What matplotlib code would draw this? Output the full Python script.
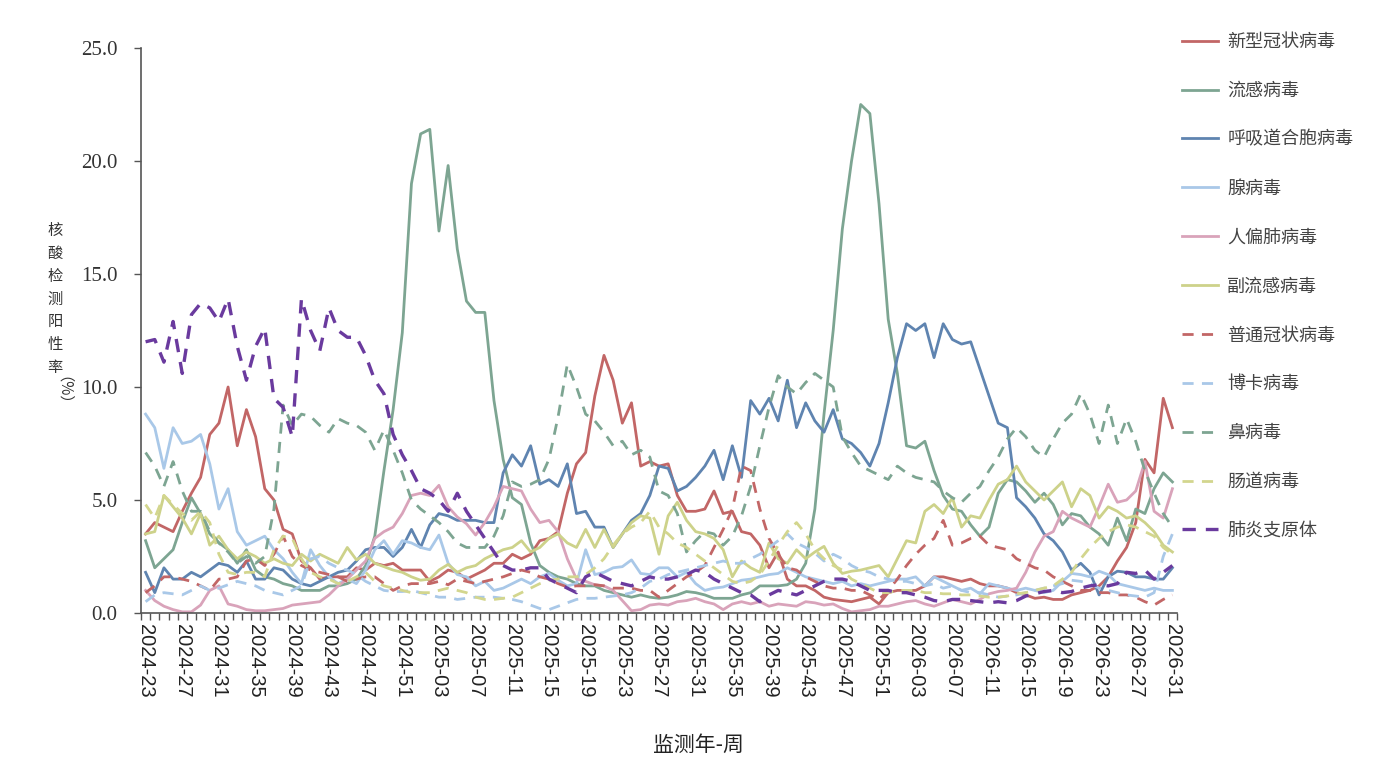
import numpy as np
import matplotlib.pyplot as plt

plt.rcParams['font.family'] = ['Noto Sans CJK SC', 'DejaVu Sans']

# 监测周：2024-23 ~ 2026-31
weeks = ([f'2024-{w:02d}' for w in range(23, 53)] +
         [f'2025-{w:02d}' for w in range(1, 53)] +
         [f'2026-{w:02d}' for w in range(1, 32)])

names = ['新型冠状病毒', '流感病毒', '呼吸道合胞病毒', '腺病毒', '人偏肺病毒',
         '副流感病毒', '普通冠状病毒', '博卡病毒', '鼻病毒', '肠道病毒', '肺炎支原体']

# 阳性率(%)，按周
covid = [3.5, 4.0, 3.8, 3.6, 4.5, 5.3, 6.0, 7.9, 8.4, 10.0,
         7.4, 9.0, 7.8, 5.5, 5.0, 3.7, 3.5, 2.3, 2.0, 1.5,
         1.6, 1.6, 1.6, 2.0, 1.9, 2.2, 2.1, 2.2, 1.9, 1.9,
         1.9, 1.4, 1.6, 1.9, 1.8, 1.5, 1.7, 1.9, 2.2, 2.2,
         2.6, 2.4, 2.6, 3.2, 3.3, 3.6, 5.3, 6.6, 7.1, 9.6,
         11.4, 10.3, 8.4, 9.3, 6.5, 6.7, 6.5, 6.6, 5.2, 4.5,
         4.5, 4.6, 5.4, 4.4, 4.5, 3.6, 3.5, 3.0, 2.0, 2.7,
         1.5, 1.2, 1.2, 1.0, 0.7, 0.6, 0.55, 0.5, 0.6, 0.7,
         0.4, 0.9, 1.0, 1.0, 1.0, 1.2, 1.6, 1.6, 1.5, 1.4,
         1.5, 1.3, 1.2, 1.2, 1.1, 0.9, 0.8, 0.65, 0.7, 0.6,
         0.6, 0.8, 0.9, 1.0, 1.2, 1.6, 2.3, 2.9, 4.0, 6.8,
         6.2, 9.5, 8.2]
flu = [3.2, 2.0, 2.4, 2.8, 4.0, 5.1, 4.4, 3.5, 3.1, 2.8,
       2.2, 2.8, 1.9, 1.6, 1.5, 1.3, 1.2, 1.0, 1.0, 1.0,
       1.2, 1.2, 1.3, 1.5, 2.1, 3.4, 6.3, 9.0, 12.4, 19.0,
       21.2, 21.4, 16.9, 19.8, 16.1, 13.8, 13.3, 13.3, 9.4, 6.8,
       5.1, 4.8, 3.1, 2.1, 1.8, 1.6, 1.5, 1.3, 1.2, 1.2,
       1.0, 0.9, 0.8, 0.7, 0.8, 0.7, 0.65, 0.7, 0.8, 0.95,
       0.9, 0.8, 0.65, 0.65, 0.65, 0.8, 0.9, 1.2, 1.2, 1.2,
       1.25, 1.5, 2.2, 4.6, 8.8, 12.5, 17.0, 20.0, 22.5, 22.1,
       18.1, 13.0, 10.6, 7.4, 7.3, 7.6, 6.3, 5.2, 4.6, 4.5,
       3.9, 3.4, 3.8, 5.3, 5.9, 5.8, 5.4, 4.9, 5.3, 4.8,
       3.9, 4.4, 4.3, 3.8, 3.5, 3.0, 4.2, 3.2, 4.6, 4.4,
       5.5, 6.2, 5.8]
rsv = [1.8, 0.9, 2.0, 1.5, 1.5, 1.8, 1.6, 1.9, 2.2, 2.1,
       1.8, 2.3, 1.5, 1.5, 2.0, 1.9, 1.5, 1.3, 1.2, 1.4,
       1.6, 1.8, 1.9, 2.3, 2.8, 2.9, 2.9, 2.5, 2.9, 3.7,
       2.9, 3.9, 4.4, 4.3, 4.1, 4.1, 4.1, 4.0, 4.0, 6.2,
       7.0, 6.5, 7.4, 5.7, 5.9, 5.6, 6.6, 4.4, 4.5, 3.8,
       3.8, 2.9, 3.5, 4.1, 4.4, 5.2, 6.5, 6.4, 5.4, 5.6,
       6.0, 6.5, 7.2, 5.9, 7.4, 6.0, 9.4, 8.8, 9.5, 8.5,
       10.3, 8.2, 9.3, 8.5, 8.0, 9.0, 7.7, 7.5, 7.1, 6.5,
       7.5, 9.3, 11.3, 12.8, 12.5, 12.8, 11.3, 12.8, 12.1, 11.9,
       12.0, 10.8, 9.6, 8.4, 8.2, 5.1, 4.7, 4.2, 3.5, 3.2,
       2.7, 1.9, 2.2, 1.8, 0.8, 1.6, 1.85, 1.8, 1.6, 1.6,
       1.5, 1.5, 2.0]
adeno = [8.8, 8.2, 6.4, 8.2, 7.5, 7.6, 7.9, 6.6, 4.6, 5.5,
         3.6, 3.0, 3.2, 3.4, 2.8, 2.4, 1.8, 1.3, 2.8, 2.1,
         1.6, 1.3, 1.5, 1.3, 1.9, 2.8, 3.2, 2.6, 3.2, 3.1,
         2.9, 2.8, 3.45, 2.2, 1.7, 1.6, 1.2, 1.4, 1.0, 1.1,
         1.3, 1.5, 1.3, 1.6, 1.75, 1.45, 1.2, 1.3, 2.8, 1.7,
         1.8, 2.0, 2.05, 2.35, 1.75, 1.7, 2.0, 2.0, 1.6, 1.8,
         1.3, 1.0, 1.1, 1.15, 1.3, 1.45, 1.5, 1.6, 1.7, 1.75,
         2.0, 1.8, 1.6, 1.5, 1.4, 1.3, 1.4, 1.2, 1.3, 1.2,
         1.3, 1.4, 1.5, 1.5, 1.6, 1.2, 1.6, 1.4, 1.2, 1.0,
         1.1, 0.85, 1.3, 1.2, 1.1, 1.0, 1.1, 1.0, 0.9, 1.0,
         1.4, 1.75, 1.7, 1.6, 1.85, 1.7, 1.3, 1.2, 1.1, 1.0,
         1.1, 1.0, 1.0]
hmpv = [1.0, 0.55, 0.3, 0.15, 0.05, 0.05, 0.35, 1.0, 1.2, 0.4,
        0.3, 0.15, 0.1, 0.1, 0.15, 0.2, 0.35, 0.4, 0.45, 0.5,
        0.8, 1.2, 1.5, 1.9, 2.3, 3.3, 3.6, 3.8, 4.4, 5.2,
        5.3, 5.2, 5.65, 4.7, 4.25, 3.95, 3.45, 4.0, 4.7, 5.6,
        5.5, 5.4, 4.6, 4.0, 4.1, 3.6, 2.4, 1.5, 1.4, 1.25,
        1.2, 1.0, 0.55, 0.1, 0.15, 0.35, 0.4, 0.35, 0.5, 0.55,
        0.65, 0.5, 0.4, 0.15, 0.4, 0.5, 0.4, 0.5, 0.3, 0.4,
        0.35, 0.3, 0.5, 0.45, 0.35, 0.4, 0.2, 0.05, 0.1, 0.15,
        0.3, 0.3, 0.4, 0.5, 0.55, 0.4, 0.3, 0.45, 0.6, 0.5,
        0.4, 0.6, 0.85, 0.95, 1.0, 1.1, 1.8, 2.7, 3.4, 3.6,
        4.5, 4.2, 4.0, 3.8, 4.7, 5.7, 4.9, 5.0, 5.4, 6.7,
        4.5, 4.2, 5.5]
paraflu = [3.5, 3.6, 5.2, 4.7, 4.2, 3.5, 4.4, 3.0, 3.4, 2.8,
           2.4, 2.7, 2.5, 2.2, 2.4, 2.2, 2.1, 2.6, 2.3, 2.6,
           2.4, 2.2, 2.9, 2.35, 2.6, 2.2, 2.05, 1.9, 1.8, 1.6,
           1.45, 1.5, 1.9, 2.15, 1.8, 2.0, 2.1, 2.4, 2.6, 2.8,
           2.9, 3.2, 2.7, 2.9, 3.3, 3.5, 3.1, 2.9, 3.7, 2.9,
           3.7, 2.9, 3.5, 4.0, 4.3, 4.2, 2.6, 4.3, 4.9, 4.1,
           3.6, 3.5, 3.3, 2.8, 1.6, 2.3, 2.0, 1.8, 3.1, 2.4,
           2.2, 2.8, 2.4, 2.7, 2.95, 2.2, 1.75, 1.85, 1.9, 2.0,
           2.1, 1.6, 2.4, 3.2, 3.1, 4.5, 4.8, 4.4, 5.1, 3.8,
           4.3, 4.2, 5.0, 5.7, 5.9, 6.5, 5.8, 5.4, 5.0, 5.4,
           5.8, 4.7, 5.5, 5.2, 4.2, 4.7, 4.5, 4.2, 4.3, 4.0,
           3.6, 3.0, 2.7]
hcov = [0.9, 1.2, 1.6, 1.6, 1.5, 1.4, 1.2, 1.0, 1.5, 1.5,
        1.6, 2.3, 2.4, 2.1, 2.6, 3.4, 2.5, 2.1, 1.9, 1.8,
        1.7, 1.6, 1.4, 1.5, 1.6, 1.6, 1.3, 1.0, 1.2, 1.3,
        1.3, 1.3, 1.4, 1.25, 1.5, 1.4, 1.3, 1.4, 1.5, 1.6,
        1.75, 1.9, 1.8, 1.6, 1.5, 1.3, 1.15, 1.2, 1.2, 1.25,
        1.2, 1.1, 1.1, 1.1, 1.0, 1.0, 0.7, 1.0, 1.3, 1.6,
        1.8, 2.1, 2.9, 3.7, 4.6, 6.5, 6.3, 4.6, 3.3, 2.6,
        2.0, 1.9, 1.6, 1.4, 1.2, 1.1, 1.1, 1.0, 1.0, 0.8,
        0.6, 1.0, 1.5, 2.1, 2.6, 3.0, 3.3, 4.1, 3.0, 3.1,
        3.3, 3.4, 3.0, 2.9, 2.8, 2.4, 2.2, 2.0, 1.9, 1.6,
        1.4, 1.2, 1.0, 1.0, 0.9, 0.9, 0.8, 0.8, 0.7, 0.5,
        0.35, 0.6, 0.8]
boca = [0.5, 0.8, 0.9, 0.85, 0.8, 1.0, 1.2, 1.0, 1.1, 1.25,
        1.4, 1.3, 1.2, 1.0, 0.9, 0.8, 1.0, 1.2, 2.4, 2.5,
        2.2, 2.0, 1.9, 1.7, 1.4, 1.2, 1.0, 0.95, 0.95, 1.0,
        0.9, 0.8, 0.7, 0.7, 0.6, 0.65, 0.7, 0.7, 0.7, 0.65,
        0.6, 0.5, 0.35, 0.2, 0.15, 0.3, 0.45, 0.6, 0.65, 0.65,
        0.7, 0.75, 0.8, 0.9, 1.1, 1.4, 1.5, 1.7, 1.8, 1.9,
        2.0, 2.1, 2.2, 2.3, 2.2, 2.2, 2.4, 2.6, 2.9, 3.2,
        3.5, 3.1, 2.9, 2.65, 2.3, 2.6, 2.4, 2.1, 1.9, 1.8,
        1.6, 1.5, 1.4, 1.4, 1.3, 1.2, 1.3, 1.1, 1.2, 1.0,
        0.9, 0.9, 0.8, 0.7, 0.75, 0.8, 0.9, 1.0, 1.1, 1.2,
        1.3, 1.45, 1.4, 1.3, 1.1, 1.0, 0.9, 0.8, 0.75, 0.7,
        0.9, 2.5, 3.5]
rhino = [7.1, 6.5, 5.6, 6.7, 5.4, 4.5, 4.5, 3.6, 3.1, 2.7,
         2.2, 2.5, 2.2, 2.5, 4.6, 9.2, 8.3, 8.8, 8.7, 8.3,
         8.0, 8.6, 8.4, 8.3, 8.0, 7.2, 8.1, 7.2, 6.2, 5.0,
         4.6, 4.3, 4.0, 3.6, 3.1, 2.9, 2.9, 2.9, 3.4, 4.3,
         5.8, 5.6, 5.7, 5.9, 6.8, 8.7, 11.0, 10.0, 8.8, 8.5,
         8.0, 7.4, 7.6, 7.0, 7.2, 6.9, 5.4, 5.2, 4.4, 2.7,
         3.2, 3.6, 3.5, 3.0, 3.4, 4.3, 5.6, 7.4, 9.1, 10.5,
         10.0, 9.7, 10.2, 10.6, 10.3, 10.0, 7.8, 7.1, 6.5, 6.3,
         6.1, 5.9, 6.5, 6.2, 6.0, 5.9, 5.8, 5.4, 5.1, 4.9,
         5.3, 5.6, 6.3, 6.9, 7.7, 8.2, 7.8, 7.2, 6.9, 7.7,
         8.4, 8.8, 9.7, 8.8, 7.5, 9.2, 7.5, 8.6, 7.6, 6.3,
         5.3, 4.4, 3.8]
entero = [4.8, 4.2, 5.2, 4.8, 4.4, 4.1, 4.5, 4.0, 2.6, 1.8,
          1.7, 1.8, 1.8, 1.6, 2.8, 3.4, 3.3, 2.4, 1.8, 1.6,
          1.5, 1.3, 1.4, 1.6, 1.8, 1.4, 1.2, 1.1, 1.0, 0.9,
          0.9, 0.9, 1.0, 1.1, 1.0, 0.9, 0.7, 0.6, 0.6, 0.65,
          0.7, 0.9, 1.1, 1.3, 1.45, 1.5, 1.6, 1.6, 1.7, 2.0,
          2.4, 3.0, 3.5, 3.8, 4.0, 4.5, 3.8, 3.5, 3.1, 2.9,
          2.6, 2.3, 2.0, 1.7, 1.4, 1.3, 1.4, 1.7, 2.3, 3.0,
          3.6, 4.0, 3.5, 2.8, 2.4, 2.1, 1.9, 1.5, 1.3, 1.1,
          0.9, 0.9, 1.0, 1.0, 1.0, 0.9, 0.9, 0.85, 0.85, 0.8,
          0.8, 0.75, 0.7, 0.7, 0.75, 0.85, 0.9, 1.0, 1.1, 1.2,
          1.5, 1.8, 2.4, 2.9, 3.3, 3.6, 3.8, 3.9, 3.8, 3.6,
          3.4, 2.9, 2.6]
myco = [12.0, 12.1, 11.1, 12.9, 10.6, 13.2, 13.7, 13.5, 12.9, 13.9,
        11.8, 10.3, 11.8, 12.6, 9.5, 9.1, 7.8, 13.9, 12.5, 11.6,
        13.5, 12.5, 12.2, 12.2, 11.4, 10.3, 9.7, 7.9, 7.0, 6.3,
        5.5, 5.3, 5.0, 4.5, 5.3, 4.5, 3.9, 3.3, 2.7, 2.1,
        1.9, 1.9, 2.0, 2.0, 1.5, 1.3, 1.1, 0.9, 1.6, 1.8,
        1.6, 1.4, 1.3, 1.2, 1.4, 1.6, 1.5, 1.5, 1.6, 1.7,
        1.9, 1.8, 1.5, 1.3, 1.1, 0.9, 0.8, 0.5, 0.8, 1.0,
        0.9, 0.8, 1.0, 1.2, 1.4, 1.5, 1.5, 1.4, 1.2, 1.0,
        1.0, 1.0, 0.9, 0.9, 0.8, 0.7, 0.55, 0.5, 0.6, 0.6,
        0.55, 0.5, 0.45, 0.5, 0.45, 0.55, 0.75, 0.85, 0.95, 1.0,
        0.9, 0.95, 1.1, 1.2, 1.25, 1.2, 1.3, 1.8, 1.75, 1.9,
        1.5, 1.8, 2.1]

series = [covid, flu, rsv, adeno, hmpv, paraflu, hcov, boca, rhino, entero, myco]
colors = ['#C26666', '#7DA592', '#5F84B0', '#A9C8E8', '#D9A3BA', '#CDD28A',
          '#C26666', '#A9C8E8', '#7DA592', '#D3D68E', '#6A3A9E']
dashed = [False] * 6 + [True] * 5

fig = plt.figure(figsize=(13.84, 7.68), dpi=100)
ax = fig.add_axes([141 / 1384, 1 - 613 / 768, (1177 - 141) / 1384, (613 - 48) / 768])

x = np.arange(len(weeks))
for name, vals, c, d in zip(names, series, colors, dashed):
    if d:
        lw = 2.4 if name == '肺炎支原体' else 2.0
        ax.plot(x, vals, color=c, lw=lw, linestyle=(0, (4, 3)), label=name)
    else:
        ax.plot(x, vals, color=c, lw=2.0, label=name)

ax.set_xlim(-0.5, len(weeks) - 0.5)
ax.set_ylim(0, 25)
ax.set_yticks(np.arange(0, 26, 5))
ax.set_yticklabels([f'{v:.1f}' for v in np.arange(0, 26, 5)],
                   fontfamily='Liberation Serif', fontsize=15, color='#333333')
ax.tick_params(axis='y', length=5, width=1, pad=12, color='#555555')

ax.set_xticks(x[::4])
ax.set_xticklabels(weeks[::4], rotation=-90, fontfamily='Liberation Sans',
                   fontsize=14.5, color='#222222')
ax.tick_params(axis='x', which='major', length=0, pad=8)
ax.set_xticks(np.arange(-0.5, len(weeks), 1), minor=True)
ax.tick_params(axis='x', which='minor', length=5, width=1, color='#555555')

for s in ['top', 'right']:
    ax.spines[s].set_visible(False)
for s in ['left', 'bottom']:
    ax.spines[s].set_color('#555555')
    ax.spines[s].set_linewidth(1.2)

# 纵轴标题（竖排）
fig.text(55 / 1384, 1 - 222 / 768, '\n'.join('核酸检测阳性率'), ha='center', va='top',
         fontsize=11, linespacing=1.45, color='#333333')
fig.text(55 / 1384, 1 - 376 / 768, '（%）', ha='center', va='top', rotation=-90,
         fontsize=11, color='#333333')
fig.text(698 / 1384, 1 - 745 / 768, '监测年-周', ha='center', va='center',
         fontsize=15, color='#222222')

fig.legend(loc='upper left', bbox_to_anchor=(1182 / 1384, 1 - 33 / 768), frameon=False,
           fontsize=13, handlelength=2.0, handletextpad=0.5, labelspacing=1.71,
           borderaxespad=0, borderpad=0, labelcolor='#444444')

fig.savefig('out.png', dpi=100)
